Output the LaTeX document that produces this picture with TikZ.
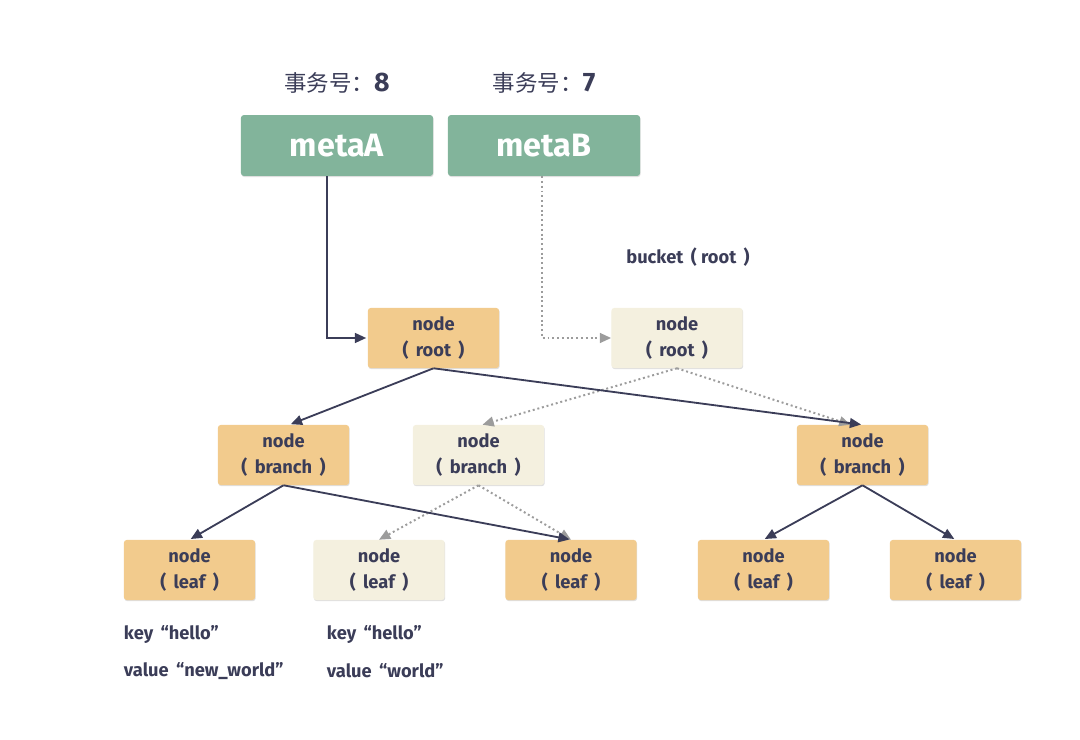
\documentclass[tikz,border=0pt]{standalone}
\usepackage{fontspec}
\setmainfont{Fira Sans}
\newfontfamily\cjk{Noto Sans CJK SC}
\usepackage{xcolor}
\usetikzlibrary{arrows.meta, shadows}

\definecolor{metagreen}{HTML}{82B49B}
\definecolor{liveorange}{HTML}{F2CB8D}
\definecolor{oldcream}{HTML}{F4F0DF}
\definecolor{inkblue}{HTML}{3B3D58}
\definecolor{oldgray}{HTML}{9C9C9C}

\begin{document}
\begin{tikzpicture}[x=0.025cm, y=-0.025cm, >=Triangle,
    font=\bfseries\color{inkblue},
    box/.style={rounded corners=2pt, inner sep=0pt, align=center,
        minimum width=3.28cm, minimum height=1.5cm,
        drop shadow={opacity=0.25, shadow xshift=0.4pt, shadow yshift=-0.8pt},
        font=\fontsize{13}{18.5}\selectfont\bfseries\color{inkblue}},
    metabox/.style={box, fill=metagreen, minimum width=4.8cm, minimum height=1.52cm,
        font=\fontsize{23}{26}\selectfont\bfseries\color{white}},
    livebox/.style={box, fill=liveorange},
    oldbox/.style={box, fill=oldcream},
    livearrow/.style={->, draw=inkblue, line width=1.3pt, shorten >=1pt, >={Triangle[length=8pt, width=7pt]}},
    oldarrow/.style={->, draw=oldgray, line width=1.4pt, dotted, >={Triangle[length=8pt, width=7pt]}},
    note/.style={anchor=west, font=\fontsize{13}{15}\selectfont\bfseries\color{inkblue}}]
    \useasboundingbox (0,0) rectangle (1080,740);

    % meta pages
    \node (txA) at (337,83) {\fontsize{16}{18}\selectfont{\cjk\mdseries 事务号：}\fontsize{19}{20}\selectfont 8};
    \node (txB) at (544,83) {\fontsize{16}{18}\selectfont{\cjk\mdseries 事务号：}\fontsize{19}{20}\selectfont 7};
    \node[metabox] (metaA) at (337,145.5) {metaA};
    \node[metabox] (metaB) at (544,145.5) {metaB};

    \node[note, anchor=center] (bucket) at (688,257) {bucket \,( root \,)};

    % roots
    \node[livebox] (rootA) at (433.5,338) {node\\( \,root\, )};
    \node[oldbox] (rootB) at (677,338) {node\\( \,root\, )};

    % branches
    \node[livebox] (branchL) at (283.5,455) {node\\( \,branch\, )};
    \node[oldbox] (branchM) at (478.5,455) {node\\( \,branch\, )};
    \node[livebox] (branchR) at (862.5,455) {node\\( \,branch\, )};

    % leaves
    \node[livebox] (leafA) at (189.5,570) {node\\( \,leaf\, )};
    \node[oldbox] (leafB) at (379,570) {node\\( \,leaf\, )};
    \node[livebox] (leafC) at (571,570) {node\\( \,leaf\, )};
    \node[livebox] (leafD) at (763.5,570) {node\\( \,leaf\, )};
    \node[livebox] (leafE) at (955.5,570) {node\\( \,leaf\, )};

    \node[note] (keyA) at (119,635) {key \,“hello”};
    \node[note] (valA) at (119,671) {value \,“new\_world”};
    \node[note] (keyB) at (322,635) {key \,“hello”};
    \node[note] (valB) at (322,671) {value \,“world”};

    % old version (dotted)
    \draw[oldarrow] ([xshift=-0.05cm]metaB.south) |- (rootB.west);
    \draw[oldarrow] (rootB.south) -- ([xshift=0.1cm]branchM.north);
    \draw[oldarrow] (rootB.south) -- ([xshift=-0.3cm]branchR.north);
    \draw[oldarrow] (branchM.south) -- (leafB.north);
    \draw[oldarrow] (branchM.south) -- (leafC.north);

    % new version
    \draw[livearrow] ([xshift=-0.25cm]metaA.south) |- (rootA.west);
    \draw[livearrow] (rootA.south) -- ([xshift=0.15cm]branchL.north);
    \draw[livearrow] (rootA.south) -- (branchR.north);
    \draw[livearrow] (branchL.south) -- (leafA.north);
    \draw[livearrow] (branchL.south) -- (leafC.north);
    \draw[livearrow] (branchR.south) -- (leafD.north);
    \draw[livearrow] (branchR.south) -- (leafE.north);
\end{tikzpicture}
\end{document}
